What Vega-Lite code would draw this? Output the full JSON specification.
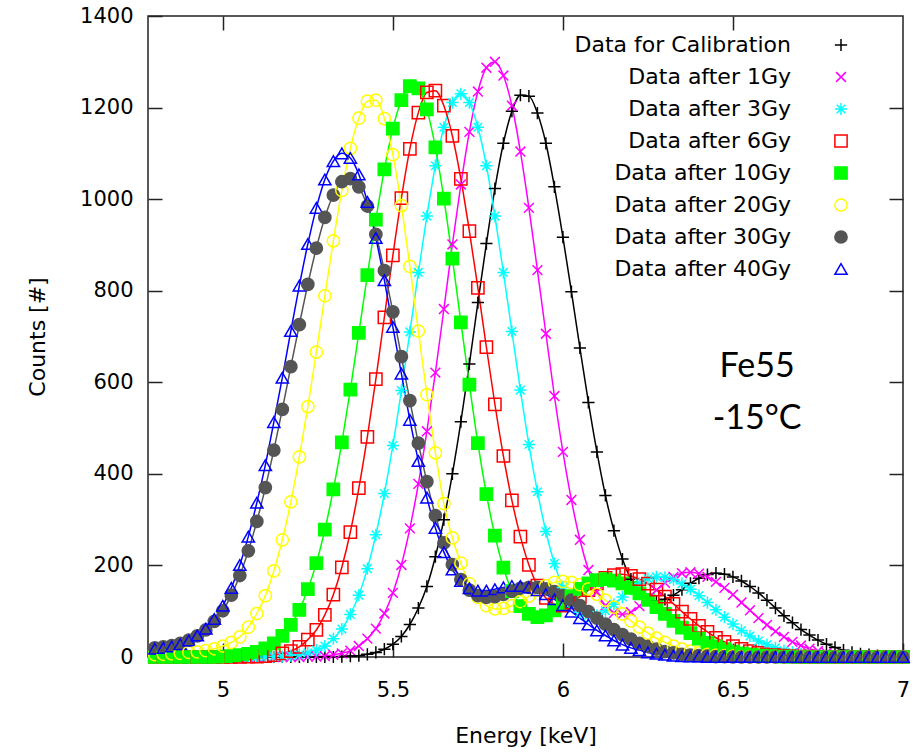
{
 "$schema": "https://vega.github.io/schema/vega-lite/v6.json",
 "width": 755, "height": 641,
 "autosize": {"type": "none"},
 "padding": {"left": 148, "top": 16, "right": 15, "bottom": 95},
 "background": "white",
 "config": {
   "font": "DejaVu Sans",
   "view": {"stroke": "#222", "strokeWidth": 1.5},
   "axis": {"grid": false, "domain": false, "tickColor": "#222", "tickWidth": 1.5, "tickSize": -14, "labelFont": "DejaVu Sans", "labelFontSize": 21, "labelColor": "#000", "titleFont": "DejaVu Sans", "titleFontSize": 22, "titleFontWeight": "normal", "titleColor": "#000", "labelFlush": false, "labelOverlap": false}
 },
 "datasets": {
  "labels": [
   {"k": "C", "label": "Data for Calibration"},
   {"k": "G1", "label": "Data after 1Gy"},
   {"k": "G3", "label": "Data after 3Gy"},
   {"k": "G6", "label": "Data after 6Gy"},
   {"k": "G10", "label": "Data after 10Gy"},
   {"k": "G20", "label": "Data after 20Gy"},
   {"k": "G30", "label": "Data after 30Gy"},
   {"k": "G40", "label": "Data after 40Gy"}
  ]
 },
 "data": {"values": [
  {"e":4.8,"C":0,"G1":0,"G3":0,"G6":0,"G10":0,"G20":5,"G30":20,"G40":18},
  {"e":4.825,"C":0,"G1":0,"G3":0,"G6":0,"G10":0,"G20":6,"G30":22,"G40":20},
  {"e":4.85,"C":0,"G1":0,"G3":0,"G6":0,"G10":0,"G20":7,"G30":25,"G40":23},
  {"e":4.875,"C":0,"G1":0,"G3":0,"G6":0,"G10":0,"G20":8,"G30":30,"G40":28},
  {"e":4.9,"C":0,"G1":0,"G3":0,"G6":0,"G10":0,"G20":10,"G30":37,"G40":36},
  {"e":4.925,"C":0,"G1":0,"G3":0,"G6":0,"G10":0,"G20":11,"G30":46,"G40":47},
  {"e":4.95,"C":0,"G1":0,"G3":0,"G6":0,"G10":0,"G20":14,"G30":59,"G40":62},
  {"e":4.975,"C":0,"G1":0,"G3":0,"G6":0,"G10":0,"G20":18,"G30":78,"G40":83},
  {"e":5.0,"C":0,"G1":0,"G3":0,"G6":0,"G10":1,"G20":24,"G30":101,"G40":112},
  {"e":5.025,"C":0,"G1":0,"G3":0,"G6":0,"G10":2,"G20":32,"G30":135,"G40":151},
  {"e":5.05,"C":0,"G1":0,"G3":0,"G6":0,"G10":4,"G20":44,"G30":178,"G40":201},
  {"e":5.075,"C":0,"G1":0,"G3":0,"G6":1,"G10":7,"G20":65,"G30":232,"G40":263},
  {"e":5.1,"C":0,"G1":0,"G3":0,"G6":1,"G10":11,"G20":95,"G30":296,"G40":337},
  {"e":5.125,"C":0,"G1":0,"G3":0,"G6":2,"G10":19,"G20":134,"G30":370,"G40":419},
  {"e":5.15,"C":0,"G1":0,"G3":1,"G6":4,"G10":30,"G20":188,"G30":452,"G40":513},
  {"e":5.175,"C":0,"G1":0,"G3":1,"G6":8,"G10":46,"G20":256,"G30":541,"G40":610},
  {"e":5.2,"C":0,"G1":0,"G3":3,"G6":13,"G10":70,"G20":339,"G30":634,"G40":712},
  {"e":5.225,"C":0,"G1":0,"G3":5,"G6":22,"G10":103,"G20":437,"G30":726,"G40":811},
  {"e":5.25,"C":0,"G1":1,"G3":9,"G6":38,"G10":148,"G20":547,"G30":814,"G40":902},
  {"e":5.275,"C":0,"G1":1,"G3":15,"G6":59,"G10":205,"G20":666,"G30":893,"G40":981},
  {"e":5.3,"C":0,"G1":2,"G3":24,"G6":92,"G10":278,"G20":789,"G30":960,"G40":1043},
  {"e":5.325,"C":0,"G1":5,"G3":40,"G6":136,"G10":366,"G20":909,"G30":1009,"G40":1083},
  {"e":5.35,"C":1,"G1":8,"G3":61,"G6":196,"G10":469,"G20":1019,"G30":1038,"G40":1100},
  {"e":5.375,"C":2,"G1":14,"G3":93,"G6":273,"G10":584,"G20":1111,"G30":1045,"G40":1090},
  {"e":5.4,"C":3,"G1":24,"G3":135,"G6":369,"G10":708,"G20":1177,"G30":1027,"G40":1054},
  {"e":5.425,"C":6,"G1":40,"G3":193,"G6":481,"G10":834,"G20":1214,"G30":985,"G40":994},
  {"e":5.45,"C":10,"G1":62,"G3":267,"G6":607,"G10":955,"G20":1216,"G30":923,"G40":915},
  {"e":5.475,"C":17,"G1":95,"G3":357,"G6":742,"G10":1065,"G20":1176,"G30":844,"G40":823},
  {"e":5.5,"C":28,"G1":140,"G3":462,"G6":877,"G10":1154,"G20":1097,"G30":754,"G40":721},
  {"e":5.525,"C":45,"G1":201,"G3":582,"G6":1002,"G10":1216,"G20":986,"G30":656,"G40":619},
  {"e":5.55,"C":71,"G1":281,"G3":710,"G6":1110,"G10":1247,"G20":853,"G30":560,"G40":518},
  {"e":5.575,"C":107,"G1":378,"G3":840,"G6":1189,"G10":1242,"G20":712,"G30":467,"G40":428},
  {"e":5.6,"C":154,"G1":493,"G3":963,"G6":1233,"G10":1196,"G20":573,"G30":383,"G40":348},
  {"e":5.625,"C":219,"G1":621,"G3":1073,"G6":1237,"G10":1113,"G20":446,"G30":309,"G40":282},
  {"e":5.65,"C":300,"G1":760,"G3":1157,"G6":1204,"G10":1001,"G20":335,"G30":249,"G40":229},
  {"e":5.675,"C":400,"G1":901,"G3":1211,"G6":1138,"G10":870,"G20":260,"G30":202,"G40":191},
  {"e":5.7,"C":514,"G1":1032,"G3":1230,"G6":1044,"G10":731,"G20":205,"G30":169,"G40":166},
  {"e":5.725,"C":640,"G1":1147,"G3":1211,"G6":930,"G10":595,"G20":160,"G30":146,"G40":150},
  {"e":5.75,"C":774,"G1":1235,"G3":1157,"G6":806,"G10":467,"G20":130,"G30":134,"G40":145},
  {"e":5.775,"C":903,"G1":1287,"G3":1073,"G6":677,"G10":356,"G20":112,"G30":130,"G40":145},
  {"e":5.8,"C":1023,"G1":1300,"G3":963,"G6":552,"G10":265,"G20":105,"G30":132,"G40":148},
  {"e":5.825,"C":1122,"G1":1270,"G3":840,"G6":439,"G10":195,"G20":106,"G30":137,"G40":152},
  {"e":5.85,"C":1192,"G1":1204,"G3":711,"G6":342,"G10":144,"G20":112,"G30":144,"G40":155},
  {"e":5.875,"C":1227,"G1":1104,"G3":583,"G6":263,"G10":111,"G20":121,"G30":150,"G40":155},
  {"e":5.9,"C":1225,"G1":981,"G3":464,"G6":201,"G10":94,"G20":133,"G30":152,"G40":152},
  {"e":5.925,"C":1188,"G1":845,"G3":361,"G6":156,"G10":87,"G20":146,"G30":152,"G40":146},
  {"e":5.95,"C":1122,"G1":706,"G3":274,"G6":129,"G10":91,"G20":156,"G30":149,"G40":137},
  {"e":5.975,"C":1027,"G1":570,"G3":204,"G6":115,"G10":102,"G20":163,"G30":143,"G40":126},
  {"e":6.0,"C":917,"G1":448,"G3":152,"G6":112,"G10":117,"G20":165,"G30":134,"G40":113},
  {"e":6.025,"C":798,"G1":343,"G3":119,"G6":119,"G10":133,"G20":163,"G30":124,"G40":99},
  {"e":6.05,"C":675,"G1":256,"G3":98,"G6":132,"G10":149,"G20":158,"G30":112,"G40":85},
  {"e":6.075,"C":556,"G1":190,"G3":90,"G6":146,"G10":161,"G20":149,"G30":99,"G40":71},
  {"e":6.1,"C":448,"G1":142,"G3":91,"G6":161,"G10":168,"G20":137,"G30":85,"G40":58},
  {"e":6.125,"C":353,"G1":112,"G3":101,"G6":173,"G10":170,"G20":124,"G30":72,"G40":47},
  {"e":6.15,"C":276,"G1":96,"G3":115,"G6":179,"G10":167,"G20":109,"G30":60,"G40":36},
  {"e":6.175,"C":214,"G1":93,"G3":131,"G6":181,"G10":161,"G20":94,"G30":49,"G40":27},
  {"e":6.2,"C":170,"G1":98,"G3":148,"G6":177,"G10":151,"G20":79,"G30":39,"G40":20},
  {"e":6.225,"C":141,"G1":111,"G3":161,"G6":170,"G10":139,"G20":65,"G30":30,"G40":15},
  {"e":6.25,"C":126,"G1":128,"G3":171,"G6":160,"G10":125,"G20":52,"G30":23,"G40":10},
  {"e":6.275,"C":122,"G1":146,"G3":175,"G6":147,"G10":109,"G20":41,"G30":17,"G40":7},
  {"e":6.3,"C":126,"G1":162,"G3":174,"G6":132,"G10":94,"G20":32,"G30":12,"G40":5},
  {"e":6.325,"C":135,"G1":175,"G3":169,"G6":116,"G10":79,"G20":24,"G30":9,"G40":3},
  {"e":6.35,"C":147,"G1":183,"G3":160,"G6":99,"G10":64,"G20":17,"G30":6,"G40":2},
  {"e":6.375,"C":161,"G1":185,"G3":148,"G6":83,"G10":52,"G20":13,"G30":4,"G40":1},
  {"e":6.4,"C":172,"G1":182,"G3":134,"G6":68,"G10":40,"G20":9,"G30":3,"G40":1},
  {"e":6.425,"C":180,"G1":175,"G3":119,"G6":55,"G10":31,"G20":6,"G30":2,"G40":0},
  {"e":6.45,"C":183,"G1":164,"G3":103,"G6":42,"G10":23,"G20":4,"G30":1,"G40":0},
  {"e":6.475,"C":181,"G1":151,"G3":87,"G6":33,"G10":17,"G20":3,"G30":1,"G40":0},
  {"e":6.5,"C":175,"G1":136,"G3":72,"G6":24,"G10":12,"G20":2,"G30":0,"G40":0},
  {"e":6.525,"C":166,"G1":119,"G3":58,"G6":18,"G10":8,"G20":1,"G30":0,"G40":0},
  {"e":6.55,"C":154,"G1":102,"G3":46,"G6":13,"G10":6,"G20":1,"G30":0,"G40":0},
  {"e":6.575,"C":140,"G1":85,"G3":35,"G6":9,"G10":4,"G20":0,"G30":0,"G40":0},
  {"e":6.6,"C":124,"G1":70,"G3":27,"G6":6,"G10":3,"G20":0,"G30":0,"G40":0},
  {"e":6.625,"C":107,"G1":56,"G3":20,"G6":4,"G10":2,"G20":0,"G30":0,"G40":0},
  {"e":6.65,"C":90,"G1":44,"G3":14,"G6":3,"G10":1,"G20":0,"G30":0,"G40":0},
  {"e":6.675,"C":75,"G1":33,"G3":10,"G6":2,"G10":1,"G20":0,"G30":0,"G40":0},
  {"e":6.7,"C":60,"G1":25,"G3":7,"G6":1,"G10":0,"G20":0,"G30":0,"G40":0},
  {"e":6.725,"C":48,"G1":18,"G3":5,"G6":1,"G10":0,"G20":0,"G30":0,"G40":0},
  {"e":6.75,"C":37,"G1":13,"G3":3,"G6":0,"G10":0,"G20":0,"G30":0,"G40":0},
  {"e":6.775,"C":28,"G1":9,"G3":2,"G6":0,"G10":0,"G20":0,"G30":0,"G40":0},
  {"e":6.8,"C":21,"G1":6,"G3":1,"G6":0,"G10":0,"G20":0,"G30":0,"G40":0},
  {"e":6.825,"C":15,"G1":4,"G3":1,"G6":0,"G10":0,"G20":0,"G30":0,"G40":0},
  {"e":6.85,"C":10,"G1":3,"G3":0,"G6":0,"G10":0,"G20":0,"G30":0,"G40":0},
  {"e":6.875,"C":7,"G1":2,"G3":0,"G6":0,"G10":0,"G20":0,"G30":0,"G40":0},
  {"e":6.9,"C":5,"G1":1,"G3":0,"G6":0,"G10":0,"G20":0,"G30":0,"G40":0},
  {"e":6.925,"C":3,"G1":1,"G3":0,"G6":0,"G10":0,"G20":0,"G30":0,"G40":0},
  {"e":6.95,"C":2,"G1":0,"G3":0,"G6":0,"G10":0,"G20":0,"G30":0,"G40":0},
  {"e":6.975,"C":1,"G1":0,"G3":0,"G6":0,"G10":0,"G20":0,"G30":0,"G40":0},
  {"e":7.0,"C":1,"G1":0,"G3":0,"G6":0,"G10":0,"G20":0,"G30":0,"G40":0}
 ]},
 "layer": [
  {
   "transform": [{"fold": ["C","G1","G3","G6","G10","G20","G30","G40"], "as": ["series","counts"]}],
   "mark": {"type": "line", "strokeWidth": 1.5, "interpolate": "monotone"},
   "encoding": {
    "x": {"field": "e", "type": "quantitative", "scale": {"domain": [4.78, 7], "nice": false, "zero": false},
          "axis": {"values": [5, 5.5, 6, 6.5, 7], "format": "~g", "title": "Energy [keV]", "labelPadding": 36, "titlePadding": 25}},
    "y": {"field": "counts", "type": "quantitative", "scale": {"domain": [0, 1400], "nice": false},
          "axis": {"values": [0, 200, 400, 600, 800, 1000, 1200, 1400], "format": "d", "title": "Counts [#]", "labelPadding": 29, "titlePadding": 30}},
    "color": {"field": "series", "type": "nominal",
              "scale": {"domain": ["C","G1","G3","G6","G10","G20","G30","G40"], "range": ["#000000","#ff00ff","#00ffff","#ff0000","#00ff00","#ffff00","#555555","#0000ff"]},
              "legend": null}
   }
  },
  {
   "transform": [
    {"fold": ["C","G1","G3","G6","G10","G20","G30","G40"], "as": ["series","counts"]},
    {"lookup": "series", "from": {"data": {"name": "labels"}, "key": "k", "fields": ["label"]}}
   ],
   "mark": {"type": "point", "opacity": 1, "strokeWidth": 1.5, "size": 150},
   "encoding": {
    "x": {"field": "e", "type": "quantitative", "axis": {"orient": "top", "values": [5, 5.5, 6, 6.5], "labels": false, "title": null}},
    "y": {"field": "counts", "type": "quantitative", "axis": {"orient": "right", "values": [200, 400, 600, 800, 1000, 1200], "labels": false, "title": null}},
    "shape": {"field": "label", "type": "nominal",
              "scale": {"domain": ["Data for Calibration","Data after 1Gy","Data after 3Gy","Data after 6Gy","Data after 10Gy","Data after 20Gy","Data after 30Gy","Data after 40Gy"], "range": ["M-1,0H1M0,-1V1","M-0.8,-0.8L0.8,0.8M-0.8,0.8L0.8,-0.8","M-1,0H1M0,-1V1M-0.7,-0.7L0.7,0.7M-0.7,0.7L0.7,-0.7","square","square","circle","circle","triangle-up"]},
              "legend": {"title": null, "orient": "none", "legendX": 682, "legendY": 18, "padding": 0, "labelFont": "DejaVu Sans", "labelFontSize": 22, "labelColor": "#000", "labelAlign": "right", "labelOffset": -61, "labelLimit": 400, "symbolStrokeWidth": 1.5, "symbolSize": 150, "rowPadding": 10, "symbolOffset": 0}},
    "stroke": {"field": "label", "type": "nominal",
              "scale": {"domain": ["Data for Calibration","Data after 1Gy","Data after 3Gy","Data after 6Gy","Data after 10Gy","Data after 20Gy","Data after 30Gy","Data after 40Gy"], "range": ["#000000","#ff00ff","#00ffff","#ff0000","#00ff00","#ffff00","#555555","#0000ff"]},
              "legend": {"title": null, "orient": "none", "legendX": 682, "legendY": 18, "padding": 0, "labelFont": "DejaVu Sans", "labelFontSize": 22, "labelColor": "#000", "labelAlign": "right", "labelOffset": -61, "labelLimit": 400, "symbolStrokeWidth": 1.5, "symbolSize": 150, "rowPadding": 10, "symbolOffset": 0}},
    "fill": {"field": "label", "type": "nominal",
              "scale": {"domain": ["Data for Calibration","Data after 1Gy","Data after 3Gy","Data after 6Gy","Data after 10Gy","Data after 20Gy","Data after 30Gy","Data after 40Gy"], "range": ["transparent","transparent","transparent","transparent","#00ff00","transparent","#555555","transparent"]},
              "legend": {"title": null, "orient": "none", "legendX": 682, "legendY": 18, "padding": 0, "labelFont": "DejaVu Sans", "labelFontSize": 22, "labelColor": "#000", "labelAlign": "right", "labelOffset": -61, "labelLimit": 400, "symbolStrokeWidth": 1.5, "symbolSize": 150, "rowPadding": 10, "symbolOffset": 0}}
   }
  },
  {
   "data": {"values": [{"t": "Fe55", "x": 6.571, "y": 611}, {"t": "-15°C", "x": 6.571, "y": 498}]},
   "mark": {"type": "text", "font": "Lato", "fontSize": 34, "baseline": "alphabetic", "align": "center", "color": "#000"},
   "encoding": {
    "x": {"field": "x", "type": "quantitative", "axis": null},
    "y": {"field": "y", "type": "quantitative", "axis": null},
    "text": {"field": "t"}
   }
  }
 ],
 "resolve": {"axis": {"x": "independent", "y": "independent"}}
}
